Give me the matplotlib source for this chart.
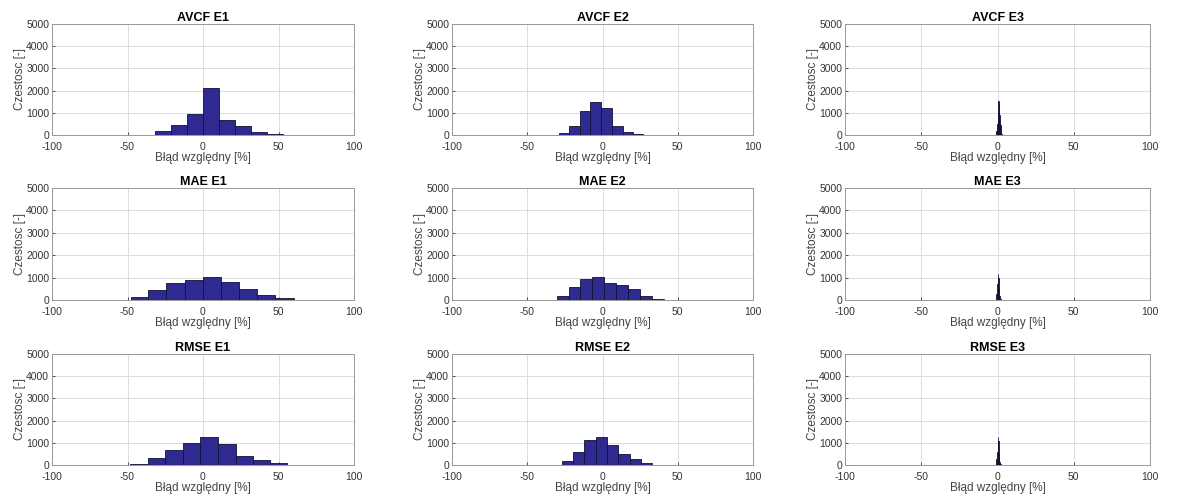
import matplotlib.pyplot as plt
import numpy as np

plt.rcParams['font.family'] = ['Liberation Sans', 'DejaVu Sans']
plt.rcParams['axes.unicode_minus'] = False

titles = ["AVCF E1", "AVCF E2", "AVCF E3",
          "MAE E1", "MAE E2", "MAE E3",
          "RMSE E1", "RMSE E2", "RMSE E3"]

# bin edges and counts
avcf_e1_edges = [-52.7, -42.1, -31.5, -20.9, -10.3, 0.3, 10.9, 21.5, 32.1, 42.7, 53.3, 63.9]
avcf_e1_counts = [5, 20, 180, 440, 930, 2120, 690, 390, 135, 40, 10]
avcf_e2_edges = [-36.1, -29.0, -22.3, -15.2, -8.0, -0.7, 6.4, 13.3, 20.2, 26.8, 33.9]
avcf_e2_counts = [5, 90, 390, 1080, 1490, 1230, 420, 150, 45, 10]
avcf_e3_edges = [-1.2, -0.8, -0.4, 0.0, 0.4, 0.8, 1.2, 1.6, 2.0, 2.4, 2.8]
avcf_e3_counts = [30, 200, 500, 1000, 1550, 1400, 900, 450, 150, 40]

mae_e1_edges = [-48.0, -36.1, -24.2, -12.2, -0.2, 11.8, 23.9, 36.0, 48.0, 60.0, 72.0]
mae_e1_counts = [150, 450, 750, 900, 1020, 800, 480, 240, 105, 20]
mae_e2_edges = [-38.2, -30.2, -22.5, -14.7, -6.8, 1.1, 9.0, 16.8, 24.7, 32.8, 40.8]
mae_e2_counts = [5, 195, 585, 930, 1020, 780, 690, 480, 195, 30]
mae_e3_edges = [-1.2, -0.8, -0.4, 0.0, 0.4, 0.8, 1.2, 1.6, 2.0]
mae_e3_counts = [40, 250, 700, 1150, 1000, 550, 200, 50]

rmse_e1_edges = [-48.2, -36.6, -24.9, -13.2, -1.8, 9.9, 21.6, 32.9, 44.1, 55.3, 66.3]
rmse_e1_counts = [60, 315, 660, 975, 1245, 960, 420, 225, 75, 15]
rmse_e2_edges = [-34.7, -27.2, -19.7, -12.1, -4.6, 2.8, 10.4, 18.0, 25.6, 33.2, 40.8]
rmse_e2_counts = [10, 180, 570, 1140, 1275, 885, 510, 285, 75, 15]
rmse_e3_edges = [-1.2, -0.8, -0.4, 0.0, 0.4, 0.8, 1.2, 1.6, 2.0]
rmse_e3_counts = [30, 250, 600, 1250, 1100, 550, 150, 40]

edges = [avcf_e1_edges, avcf_e2_edges, avcf_e3_edges,
         mae_e1_edges, mae_e2_edges, mae_e3_edges,
         rmse_e1_edges, rmse_e2_edges, rmse_e3_edges]
counts = [avcf_e1_counts, avcf_e2_counts, avcf_e3_counts,
          mae_e1_counts, mae_e2_counts, mae_e3_counts,
          rmse_e1_counts, rmse_e2_counts, rmse_e3_counts]

W, H = 1179, 500
fig = plt.figure(figsize=(W / 100, H / 100), dpi=100)

col_x = [(52, 354), (452, 753), (845, 1150)]
row_y = [(24, 135), (188, 300), (354, 465)]

for i in range(9):
    r, c = divmod(i, 3)
    x0, x1 = col_x[c]
    y0, y1 = row_y[r]
    ax = fig.add_axes([x0 / W, 1 - y1 / H, (x1 - x0) / W, (y1 - y0) / H])
    e = np.array(edges[i])
    ax.bar(e[:-1], counts[i], width=np.diff(e), align="edge",
           color="#2f2a8f", edgecolor="#111133", linewidth=0.6, zorder=3)
    ax.set_xlim(-100, 100)
    ax.set_ylim(0, 5000)
    ax.set_xticks([-100, -50, 0, 50, 100])
    ax.set_yticks([0, 1000, 2000, 3000, 4000, 5000])
    ax.grid(True, color="#dcdcdc", linewidth=0.7, zorder=0)
    ax.tick_params(direction="in", length=2, width=0.6, labelsize=7.5,
                   colors="#333333")
    ax.tick_params(axis="x", pad=5)
    ax.tick_params(axis="y", pad=2)
    for s in ax.spines.values():
        s.set_color("#999999")
        s.set_linewidth(0.7)
    ax.set_title(titles[i], fontsize=9, fontweight="bold", pad=2)
    ax.set_xlabel("Błąd względny [%]", fontsize=8.5, color="#444444", labelpad=0)
    ax.set_ylabel("Czestosc [-]", fontsize=8.5, color="#444444", labelpad=0)

fig.savefig("out.png", dpi=100)
plt.close()
